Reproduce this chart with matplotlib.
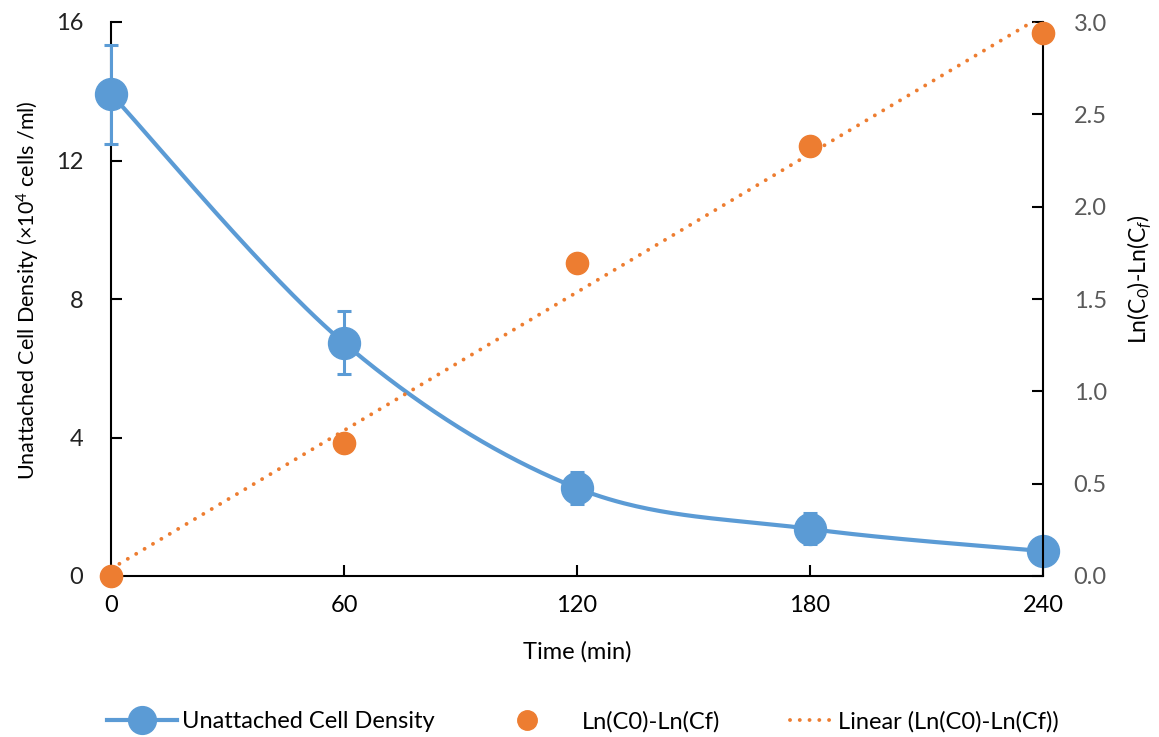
import numpy as np
import matplotlib
matplotlib.use("Agg")
import matplotlib.pyplot as plt
from matplotlib.lines import Line2D

plt.rcParams['font.family'] = ['Lato', 'DejaVu Sans']
plt.rcParams['mathtext.fontset'] = 'custom'
plt.rcParams['mathtext.rm'] = 'Lato'
plt.rcParams['mathtext.it'] = 'Lato:italic'

# ---- data ----
time_min = [0, 60, 120, 180, 240]
cell_density = [13.92, 6.73, 2.54, 1.36, 0.72]
cell_density_err = [1.43, 0.91, 0.45, 0.45, 0.10]
ln_ratio = [0.0, 0.72, 1.695, 2.33, 2.94]
x_ticks = [0, 60, 120, 180, 240]
left_ticks = [0, 4, 8, 12, 16]
right_ticks = [0.0, 0.5, 1.0, 1.5, 2.0, 2.5, 3.0]
legend_labels = ['Unattached Cell Density', 'Ln(C0)-Ln(Cf)', 'Linear (Ln(C0)-Ln(Cf))']

BLUE = '#5B9BD5'
ORANGE = '#ED7D31'
DOT = (0, (0.01, 2.5))

W, H = 1159, 737
fig = plt.figure(figsize=(W / 100, H / 100), dpi=100)
ax = fig.add_axes([111 / W, 1 - 576 / H, (1043 - 111) / W, (576 - 22) / H])
ax2 = ax.twinx()

ax.set_xlim(0, 240)
ax.set_ylim(0, 16)
ax2.set_ylim(0, 3.0)


def smooth_curve(xs, ys, sx, sy, n=60):
    # Catmull-Rom style smoothing (spreadsheet "smoothed line"), in screen-scaled space
    px = np.asarray(xs, float) * sx
    py = np.asarray(ys, float) * sy
    P = np.column_stack([px, py])
    out = []
    for i in range(len(P) - 1):
        p0 = P[i - 1] if i > 0 else P[i]
        p1 = P[i]
        p2 = P[i + 1]
        p3 = P[i + 2] if i + 2 < len(P) else P[i + 1]
        c1 = p1 + (p2 - p0) / 6.0
        c2 = p2 - (p3 - p1) / 6.0
        t = np.linspace(0, 1, n)[:, None]
        seg = ((1 - t) ** 3) * p1 + 3 * ((1 - t) ** 2) * t * c1 + 3 * (1 - t) * t ** 2 * c2 + t ** 3 * p2
        out.append(seg if i == 0 else seg[1:])
    c = np.vstack(out)
    return c[:, 0] / sx, c[:, 1] / sy


sx = 932 / 240.0
sy = 554 / 16.0
cx, cy = smooth_curve(time_min, cell_density, sx, sy)
ax.plot(cx, cy, color=BLUE, lw=3, solid_capstyle='round', zorder=3)
ax.errorbar(time_min, cell_density, yerr=cell_density_err, fmt='none', ecolor=BLUE,
            elinewidth=2.2, capsize=5, capthick=2.2, zorder=3, clip_on=False)
ax.plot(time_min, cell_density, 'o', color=BLUE, markersize=23, zorder=4, clip_on=False)

# linear trendline
coef = np.polyfit(time_min, ln_ratio, 1)
tx = np.array([0, 240])
ax2.plot(tx, np.polyval(coef, tx), color=ORANGE, lw=2.8, linestyle=DOT,
         dash_capstyle='round', zorder=3)
ax2.plot(time_min, ln_ratio, 'o', color=ORANGE, markersize=16, zorder=4, clip_on=False)

# axes styling
for a in (ax, ax2):
    a.spines['top'].set_visible(False)
    for s in ('left', 'right', 'bottom'):
        a.spines[s].set_linewidth(1.5)
        a.spines[s].set_color('black')
ax.spines['right'].set_visible(False)
ax2.spines['left'].set_visible(False)
ax2.spines['bottom'].set_visible(False)

ax.set_xticks(x_ticks)
ax.set_yticks(left_ticks)
ax2.set_yticks(right_ticks)
ax2.set_yticklabels([f'{v:.1f}' for v in right_ticks])
ax.tick_params(axis='both', direction='in', length=8, width=1.5, labelsize=17, colors='black')
ax.tick_params(axis='x', pad=14)
ax.tick_params(axis='y', pad=20, labelcolor='#222222')
ax2.tick_params(axis='y', direction='in', length=8, width=1.5, labelsize=17,
                labelcolor='#595959', pad=22)

ax.set_xlabel('Time (min)', fontsize=17, labelpad=18)
ax.set_ylabel('Unattached Cell Density (×10$^4$ cells /ml)', fontsize=15.5,
              ha='center', va='center')
ax.yaxis.set_label_coords(-0.089, 0.516)
ax2.set_ylabel('Ln(C$_0$)-Ln(C$_f$)', fontsize=16.5, rotation=90, ha='center', va='center')
ax2.yaxis.set_label_coords(1.104, 0.536)

# legend entries placed individually
ly = 1 - 722 / H
fs = 17
fpx = fs * 100 / 72.0
entries = [
    (Line2D([0], [0], color=BLUE, lw=3, marker='o', markersize=20), legend_labels[0], 107, 70, 5),
    (Line2D([0], [0], color=ORANGE, lw=0, marker='o', markersize=14), legend_labels[1], 512, 30, 40),
    (Line2D([0], [0], color=ORANGE, lw=2.8, linestyle=DOT, dash_capstyle='round'),
     legend_labels[2], 790, 42, 6),
]
for h, lab, x0, hl, tp in entries:
    fig.legend([h], [lab], loc='center left', bbox_to_anchor=(x0 / W, ly), frameon=False,
               fontsize=fs, handlelength=hl / fpx, handletextpad=tp / fpx, borderpad=0,
               borderaxespad=0)

fig.savefig('out.png', dpi=100)
